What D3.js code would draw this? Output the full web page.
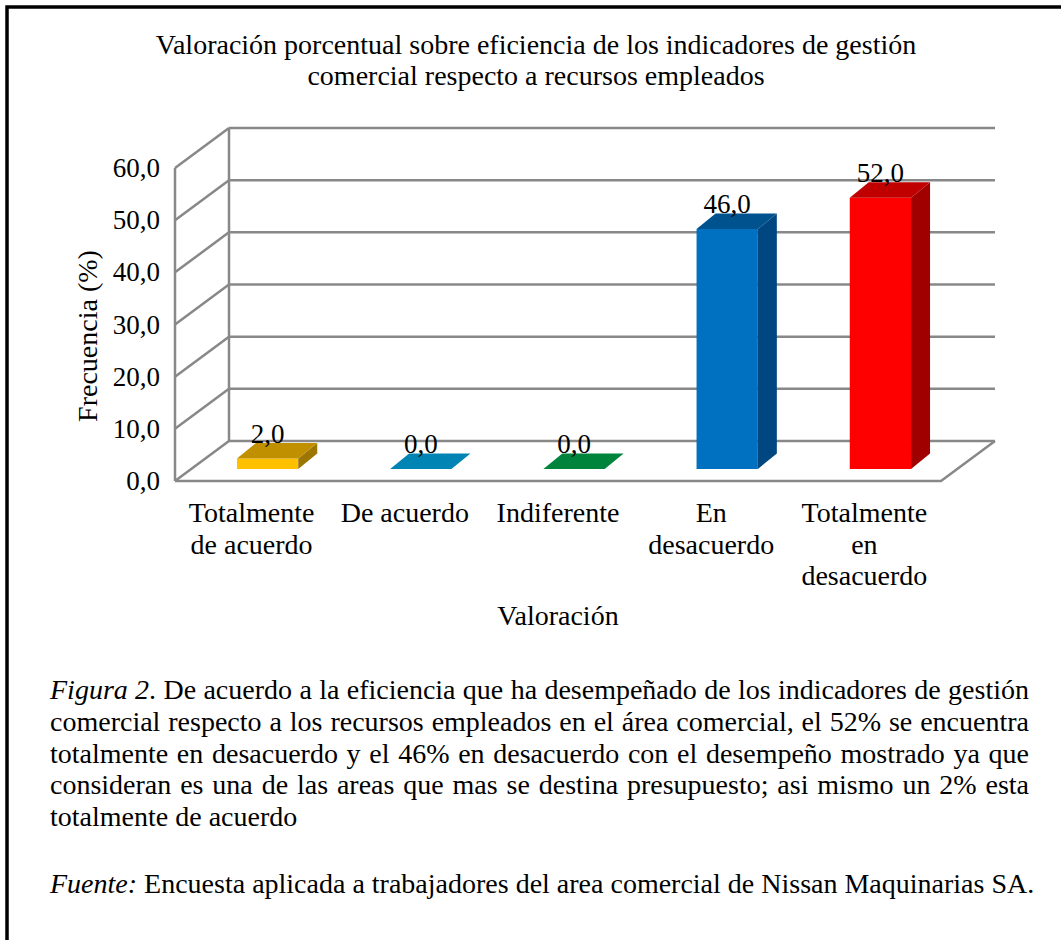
<!DOCTYPE html>
<html>
<head>
<meta charset="utf-8">
<script src="https://cdn.jsdelivr.net/npm/d3@7/dist/d3.min.js"></script>
<style>
  html, body { margin: 0; padding: 0; background: #fff; }
  svg { display: block; }
  text { font-family: "Liberation Serif", "Times New Roman", serif; fill: #000; }
</style>
</head>
<body>
<svg id="chart" width="1061" height="940"></svg>
<script>
// ---------------- DATA ----------------
const categories = [
  ["Totalmente", "de acuerdo"],
  ["De acuerdo"],
  ["Indiferente"],
  ["En", "desacuerdo"],
  ["Totalmente", "en", "desacuerdo"]
];
const values = [2.0, 0.0, 0.0, 46.0, 52.0];
const yTicks = [0, 10, 20, 30, 40, 50, 60];
const titleLines = [
  "Valoración porcentual sobre eficiencia de los indicadores de gestión",
  "comercial respecto a recursos empleados"
];
const yTitle = "Frecuencia (%)";
const xTitle = "Valoración";
const barFront = ["#FFC000", "#0096D2", "#00A04A", "#0070C0", "#FF0000"];
const barTop   = ["#C09000", "#0084B4", "#00843C", "#00528E", "#C00000"];
const barSide  = ["#9C7600", "#006A92", "#006A30", "#004680", "#A00000"];
const captionLines = [
  [[["Figura", 1]], [["2", 1], [".", 0]], "De", "acuerdo", "a", "la", "eficiencia", "que", "ha", "desempeñado", "de", "los", "indicadores", "de", "gestión"],
  "comercial respecto a los recursos empleados en el área comercial, el 52% se encuentra".split(" "),
  "totalmente en desacuerdo y el 46% en desacuerdo con el desempeño mostrado ya que".split(" "),
  "consideran es una de las areas que mas se destina presupuesto; asi mismo un 2% esta".split(" "),
  "totalmente de acuerdo".split(" ")
];
const sourceLine = [["Fuente:", 1], [" Encuesta aplicada a trabajadores del area comercial de Nissan Maquinarias SA.", 0]];

// ---------------- LAYOUT ----------------
const svg = d3.select("#chart");
const fmt = v => d3.format(".1f")(v).replace(".", ",");

// frame border
svg.append("path")
  .attr("d", "M7,940 L7,7 L1061,7")
  .attr("fill", "none").attr("stroke", "#000").attr("stroke-width", 3.5);

// 3D geometry
const frontLeft = 175, frontRight = 941;
const depthDX = 54, depthDY = 40;
const yFront = d3.scaleLinear().domain([0, 60]).range([481, 168]);
const yBack = v => yFront(v) - depthDY;
const x = d3.scaleBand().domain(d3.range(categories.length))
  .range([frontLeft, frontRight]).paddingInner(0.6).paddingOuter(0.3);

const gridColor = "#888888", gw = 2.5;
const g = svg.append("g");

// back wall gridlines
g.selectAll("line.grid").data(yTicks).join("line")
  .attr("x1", frontLeft + depthDX).attr("x2", frontRight + depthDX)
  .attr("y1", d => yBack(d)).attr("y2", d => yBack(d))
  .attr("stroke", gridColor).attr("stroke-width", gw);
// left wall diagonals
g.selectAll("line.diag").data(yTicks).join("line")
  .attr("x1", frontLeft).attr("y1", d => yFront(d))
  .attr("x2", frontLeft + depthDX).attr("y2", d => yBack(d))
  .attr("stroke", gridColor).attr("stroke-width", gw);
// left wall verticals
g.append("line").attr("x1", frontLeft).attr("x2", frontLeft)
  .attr("y1", yFront(0)).attr("y2", yFront(60))
  .attr("stroke", gridColor).attr("stroke-width", gw);
g.append("line").attr("x1", frontLeft + depthDX).attr("x2", frontLeft + depthDX)
  .attr("y1", yBack(0)).attr("y2", yBack(60))
  .attr("stroke", gridColor).attr("stroke-width", gw);
// floor
g.append("path")
  .attr("d", `M${frontLeft},${yFront(0)} L${frontRight},${yFront(0)} L${frontRight + depthDX},${yBack(0)}`)
  .attr("fill", "none").attr("stroke", gridColor).attr("stroke-width", gw);

// bars
const barOffX = 16, barOffY = 12;   // bar front plane inside the floor
const bdx = 19, bdy = 15.5;         // bar depth
const bars = svg.append("g").selectAll("g").data(values).join("g");
const yBar = v => yFront(v) - barOffY;
bars.append("polygon") // front
  .attr("points", (d, i) => {
    const x0 = x(i) + barOffX, x1 = x0 + x.bandwidth();
    return [[x0, yBar(0)], [x1, yBar(0)], [x1, yBar(d)], [x0, yBar(d)]].join(" ");
  })
  .attr("fill", (d, i) => barFront[i]);
bars.append("polygon") // side
  .attr("points", (d, i) => {
    const x1 = x(i) + barOffX + x.bandwidth();
    return [[x1, yBar(0)], [x1 + bdx, yBar(0) - bdy], [x1 + bdx, yBar(d) - bdy], [x1, yBar(d)]].join(" ");
  })
  .attr("fill", (d, i) => barSide[i]);
bars.append("polygon") // top
  .attr("points", (d, i) => {
    const x0 = x(i) + barOffX, x1 = x0 + x.bandwidth();
    return [[x0, yBar(d)], [x1, yBar(d)], [x1 + bdx, yBar(d) - bdy], [x0 + bdx, yBar(d) - bdy]].join(" ");
  })
  .attr("fill", (d, i) => barTop[i]);
// value labels
svg.append("g").selectAll("text").data(values).join("text")
  .attr("x", (d, i) => x(i) + barOffX + x.bandwidth() / 2)
  .attr("y", d => yBar(d) - 16)
  .attr("text-anchor", "middle").attr("font-size", 27)
  .text(d => fmt(d));

// y tick labels
svg.append("g").selectAll("text").data(yTicks).join("text")
  .attr("x", 160).attr("y", d => yFront(d) + 9)
  .attr("text-anchor", "end").attr("font-size", 27)
  .text(d => fmt(d));

// y title
svg.append("text")
  .attr("transform", "translate(97,336) rotate(-90)")
  .attr("text-anchor", "middle").attr("font-size", 28)
  .text(yTitle);

// x category labels
svg.append("g").selectAll("text").data(categories).join("text")
  .attr("text-anchor", "middle").attr("font-size", 28)
  .attr("transform", (d, i) => `translate(${x(i) + x.bandwidth() / 2},522)`)
  .selectAll("tspan").data(d => d).join("tspan")
  .attr("x", 0).attr("y", (d, j) => j * 31.5)
  .text(d => d);

// x title
svg.append("text").attr("x", 558).attr("y", 625)
  .attr("text-anchor", "middle").attr("font-size", 28).text(xTitle);

// chart title
svg.append("text").attr("text-anchor", "middle").attr("font-size", 28)
  .selectAll("tspan").data(titleLines).join("tspan")
  .attr("x", 536).attr("y", (d, i) => 54 + i * 31)
  .text(d => d);

// caption (justified)
const capLeft = 50, capRight = 1029, capSize = 28, capY0 = 699, capLH = 31.8;
const cap = svg.append("g").attr("font-size", capSize);
function addToken(parent, tok) {
  const segs = typeof tok === "string" ? [[tok, 0]] : tok;
  const t = parent.append("text").attr("xml:space", "preserve");
  segs.forEach(s => t.append("tspan").attr("font-style", s[1] ? "italic" : "normal").text(s[0]));
  return t;
}
captionLines.forEach((line, li) => {
  const y = capY0 + li * capLH;
  const nodes = line.map(tok => addToken(cap, tok).attr("y", y));
  const widths = nodes.map(n => n.node().getComputedTextLength());
  const total = d3.sum(widths);
  const last = li === captionLines.length - 1;
  const gap = last ? capSize * 0.25 : (capRight - capLeft - total) / (line.length - 1);
  let cx = capLeft;
  nodes.forEach((n, k) => { n.attr("x", cx); cx += widths[k] + gap; });
});
const src = cap.append("text").attr("xml:space", "preserve").attr("x", capLeft).attr("y", 893);
sourceLine.forEach(s => src.append("tspan").attr("font-style", s[1] ? "italic" : "normal").text(s[0]));
</script>
</body>
</html>
